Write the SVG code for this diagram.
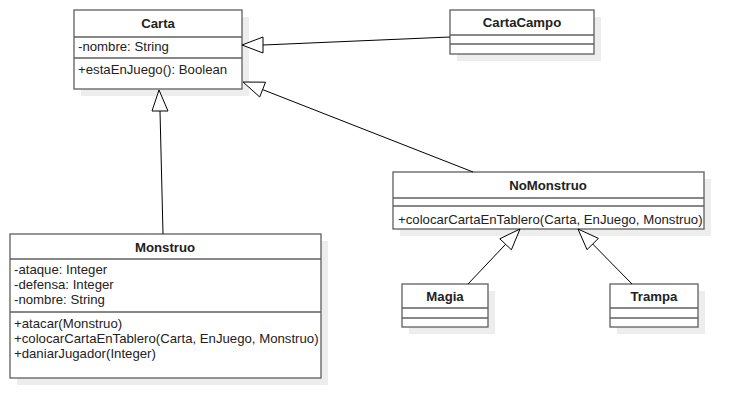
<svg xmlns="http://www.w3.org/2000/svg" width="744" height="418" viewBox="0 0 744 418">
<defs>
<style>
.shadow{fill:#ededed;stroke:none}
.box{fill:#fff;stroke:#5f5f5f;stroke-width:1.3}
.div{stroke:#5f5f5f;stroke-width:1.3;fill:none}
.t{font-family:"Liberation Sans",Arial,sans-serif;font-size:13.2px;fill:#222}
.b{font-weight:bold;text-anchor:middle}
.edge{stroke:#000;stroke-width:1;fill:none}
.tri{fill:#fff;stroke:#000;stroke-width:1}
</style>
</defs>
<rect width="744" height="418" fill="#fff"/>
<g id="Carta">
<rect class="shadow" x="81" y="17" width="168" height="79"/>
<rect class="box" x="74" y="10" width="168" height="79"/>
<line class="div" x1="74" y1="37" x2="242" y2="37"/>
<line class="div" x1="74" y1="58" x2="242" y2="58"/>
<text class="t b" x="158" y="28">Carta</text>
<text class="t" x="78" y="51">-nombre: String</text>
<text class="t" x="78" y="74">+estaEnJuego(): Boolean</text>
</g>
<g id="CartaCampo">
<rect class="shadow" x="457" y="17" width="144" height="44"/>
<rect class="box" x="450" y="10" width="144" height="44"/>
<line class="div" x1="450" y1="35" x2="594" y2="35"/>
<line class="div" x1="450" y1="44" x2="594" y2="44"/>
<text class="t b" x="522" y="27">CartaCampo</text>
</g>
<g id="Monstruo">
<rect class="shadow" x="17" y="241" width="311" height="144"/>
<rect class="box" x="10" y="234" width="311" height="144"/>
<line class="div" x1="10" y1="259" x2="321" y2="259"/>
<line class="div" x1="10" y1="312" x2="321" y2="312"/>
<text class="t b" x="165" y="252">Monstruo</text>
<text class="t" x="14" y="274">-ataque: Integer</text>
<text class="t" x="14" y="289">-defensa: Integer</text>
<text class="t" x="14" y="304">-nombre: String</text>
<text class="t" x="14" y="328">+atacar(Monstruo)</text>
<text class="t" x="14" y="343">+colocarCartaEnTablero(Carta, EnJuego, Monstruo)</text>
<text class="t" x="14" y="358">+daniarJugador(Integer)</text>
</g>
<g id="NoMonstruo">
<rect class="shadow" x="400" y="179" width="311" height="57"/>
<rect class="box" x="393" y="172" width="311" height="57"/>
<line class="div" x1="393" y1="198" x2="704" y2="198"/>
<line class="div" x1="393" y1="206" x2="704" y2="206"/>
<text class="t b" x="548" y="190">NoMonstruo</text>
<text class="t" x="398" y="224">+colocarCartaEnTablero(Carta, EnJuego, Monstruo)</text>
</g>
<g id="Magia">
<rect class="shadow" x="409" y="291" width="86" height="43"/>
<rect class="box" x="402" y="284" width="86" height="43"/>
<line class="div" x1="402" y1="308" x2="488" y2="308"/>
<line class="div" x1="402" y1="318" x2="488" y2="318"/>
<text class="t b" x="445" y="301">Magia</text>
</g>
<g id="Trampa">
<rect class="shadow" x="617" y="291" width="88" height="43"/>
<rect class="box" x="610" y="284" width="88" height="43"/>
<line class="div" x1="610" y1="308" x2="698" y2="308"/>
<line class="div" x1="610" y1="318" x2="698" y2="318"/>
<text class="t b" x="654" y="301">Trampa</text>
</g>
<g id="connectors">
<line class="edge" x1="263" y1="45" x2="450" y2="37"/>
<polygon class="tri" points="242,45 263,37 263,53"/>
<line class="edge" x1="262.6" y1="89.6" x2="473" y2="172"/>
<polygon class="tri" points="243,82 265.5,82.2 259.7,97"/>
<line class="edge" x1="160" y1="111" x2="163" y2="234"/>
<polygon class="tri" points="159,90 152,111 168,111"/>
<line class="edge" x1="505.6" y1="244.3" x2="468" y2="284"/>
<polygon class="tri" points="520,229 511.4,249.8 499.8,238.8"/>
<line class="edge" x1="592.7" y1="244" x2="632" y2="284"/>
<polygon class="tri" points="578,229 587,249.6 598.4,238.4"/>
</g>
</svg>
